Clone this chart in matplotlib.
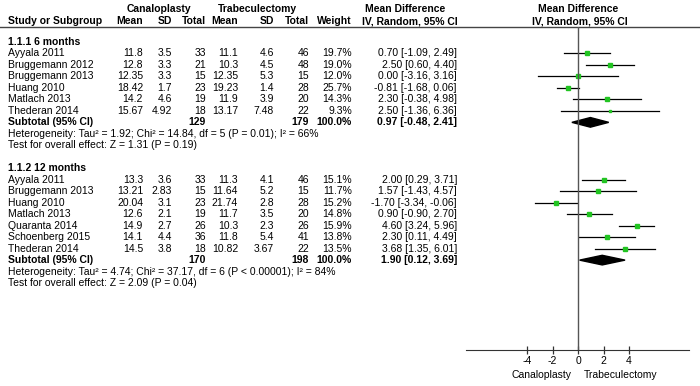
import numpy as np
import matplotlib.pyplot as plt
from matplotlib.patches import Polygon

plt.rcParams['font.family'] = ['Liberation Sans', 'DejaVu Sans']

# ---- data ----
studies1 = ['Ayyala 2011', 'Bruggemann 2012', 'Bruggemann 2013', 'Huang 2010', 'Matlach 2013', 'Thederan 2014']
mean_c1 = [11.8, 12.8, 12.35, 18.42, 14.2, 15.67]
sd_c1 = [3.5, 3.3, 3.3, 1.7, 4.6, 4.92]
n_c1 = [33, 21, 15, 23, 19, 18]
mean_t1 = [11.1, 10.3, 12.35, 19.23, 11.9, 13.17]
sd_t1 = [4.6, 4.5, 5.3, 1.4, 3.9, 7.48]
n_t1 = [46, 48, 15, 28, 20, 22]
weight1 = [19.7, 19.0, 12.0, 25.7, 14.3, 9.3]
md1 = [0.70, 2.50, 0.00, -0.81, 2.30, 2.50]
lo1 = [-1.09, 0.60, -3.16, -1.68, -0.38, -1.36]
hi1 = [2.49, 4.40, 3.16, 0.06, 4.98, 6.36]
sub1 = [129, 179, 100.0, 0.97, -0.48, 2.41]
het1 = 'Heterogeneity: Tau² = 1.92; Chi² = 14.84, df = 5 (P = 0.01); I² = 66%'
eff1 = 'Test for overall effect: Z = 1.31 (P = 0.19)'

studies2 = ['Ayyala 2011', 'Bruggemann 2013', 'Huang 2010', 'Matlach 2013', 'Quaranta 2014', 'Schoenberg 2015', 'Thederan 2014']
mean_c2 = [13.3, 13.21, 20.04, 12.6, 14.9, 14.1, 14.5]
sd_c2 = [3.6, 2.83, 3.1, 2.1, 2.7, 4.4, 3.8]
n_c2 = [33, 15, 23, 19, 26, 36, 18]
mean_t2 = [11.3, 11.64, 21.74, 11.7, 10.3, 11.8, 10.82]
sd_t2 = [4.1, 5.2, 2.8, 3.5, 2.3, 5.4, 3.67]
n_t2 = [46, 15, 28, 20, 26, 41, 22]
weight2 = [15.1, 11.7, 15.2, 14.8, 15.9, 13.8, 13.5]
md2 = [2.00, 1.57, -1.70, 0.90, 4.60, 2.30, 3.68]
lo2 = [0.29, -1.43, -3.34, -0.90, 3.24, 0.11, 1.35]
hi2 = [3.71, 4.57, -0.06, 2.70, 5.96, 4.49, 6.01]
sub2 = [170, 198, 100.0, 1.90, 0.12, 3.69]
het2 = 'Heterogeneity: Tau² = 4.74; Chi² = 37.17, df = 6 (P < 0.00001); I² = 84%'
eff2 = 'Test for overall effect: Z = 2.09 (P = 0.04)'

xticks = [-4, -2, 0, 2, 4]

# ---- layout (pixels) ----
W, H = 700, 386
row0, dy = 42, 11.48
line_y, axis_y = 27, 350
fx0, fx1 = 466, 689
zero_px, unit_px = 578, 12.75
cols = [143, 172, 206, 238, 274, 309, 352, 457]  # right edges
fs = 7.5
green = '#22c422'


def ry(r):
    return row0 + dy * r


fig = plt.figure(figsize=(W / 100, H / 100), dpi=100)
tab = fig.add_axes([0, 0, 1, 1])
tab.set_xlim(0, W)
tab.set_ylim(H, 0)
tab.axis('off')

ax = fig.add_axes([fx0 / W, 1 - axis_y / H, (fx1 - fx0) / W, (axis_y - line_y) / H])
ax.set_xlim((fx0 - zero_px) / unit_px, (fx1 - zero_px) / unit_px)
ax.set_ylim((axis_y - row0) / dy, (line_y - row0) / dy)
ax.patch.set_alpha(0)

# headers
tab.text(159, 9, 'Canaloplasty', ha='center', va='center', fontsize=fs, fontweight='bold')
tab.text(257, 9, 'Trabeculectomy', ha='center', va='center', fontsize=fs, fontweight='bold')
tab.text(405, 9, 'Mean Difference', ha='center', va='center', fontsize=fs, fontweight='bold')
tab.text(578, 9, 'Mean Difference', ha='center', va='center', fontsize=fs, fontweight='bold')
hdr = ['Mean', 'SD', 'Total', 'Mean', 'SD', 'Total', 'Weight']
tab.text(8, 21.5, 'Study or Subgroup', ha='left', va='center', fontsize=fs, fontweight='bold')
for c, h in zip(cols, hdr):
    tab.text(c, 21.5, h, ha='right', va='center', fontsize=fs, fontweight='bold')
tab.text(410, 21.5, 'IV, Random, 95% CI', ha='center', va='center', fontsize=fs, fontweight='bold')
tab.text(580, 21.5, 'IV, Random, 95% CI', ha='center', va='center', fontsize=fs, fontweight='bold')
tab.plot([0, W], [line_y, line_y], color='#444444', lw=1)


def group(r, title, studies, mc, sc, nc, mt, st, nt, w, md, lo, hi, sub, het, eff):
    tab.text(8, ry(r), title, ha='left', va='center', fontsize=fs, fontweight='bold')
    for i in range(len(studies)):
        y = ry(r + 1 + i)
        vals = [f'{mc[i]:g}', f'{sc[i]:g}', str(nc[i]), f'{mt[i]:g}', f'{st[i]:g}', str(nt[i]),
                f'{w[i]:.1f}%', f'{md[i]:.2f} [{lo[i]:.2f}, {hi[i]:.2f}]']
        tab.text(8, y, studies[i], ha='left', va='center', fontsize=fs)
        for c, v in zip(cols, vals):
            tab.text(c, y, v, ha='right', va='center', fontsize=fs)
        yr = r + 1 + i
        ax.plot([lo[i], hi[i]], [yr, yr], color='black', lw=0.9)
        ax.plot(md[i], yr, marker='s', color=green, ms=0.7 * np.sqrt(w[i]), mec=green)
    rs = r + 1 + len(studies)
    y = ry(rs)
    tab.text(8, y, 'Subtotal (95% CI)', ha='left', va='center', fontsize=fs, fontweight='bold')
    tab.text(cols[2], y, str(sub[0]), ha='right', va='center', fontsize=fs, fontweight='bold')
    tab.text(cols[5], y, str(sub[1]), ha='right', va='center', fontsize=fs, fontweight='bold')
    tab.text(cols[6], y, f'{sub[2]:.1f}%', ha='right', va='center', fontsize=fs, fontweight='bold')
    tab.text(cols[7], y, f'{sub[3]:.2f} [{sub[4]:.2f}, {sub[5]:.2f}]', ha='right', va='center',
             fontsize=fs, fontweight='bold')
    dia = Polygon([[sub[4], rs], [sub[3], rs - 0.42], [sub[5], rs], [sub[3], rs + 0.42]],
                  closed=True, color='black')
    ax.add_patch(dia)
    tab.text(8, ry(rs + 1), het, ha='left', va='center', fontsize=fs)
    tab.text(8, ry(rs + 2), eff, ha='left', va='center', fontsize=fs)


group(0, '1.1.1 6 months', studies1, mean_c1, sd_c1, n_c1, mean_t1, sd_t1, n_t1,
      weight1, md1, lo1, hi1, sub1, het1, eff1)
group(11, '1.1.2 12 months', studies2, mean_c2, sd_c2, n_c2, mean_t2, sd_t2, n_t2,
      weight2, md2, lo2, hi2, sub2, het2, eff2)

# forest axis
ax.axvline(0, color='#555555', lw=1)
for s in ['top', 'left', 'right']:
    ax.spines[s].set_visible(False)
ax.spines['bottom'].set_color('#333333')
ax.set_yticks([])
ax.set_xticks(xticks)
ax.set_xticklabels([str(t) for t in xticks], fontsize=fs)
ax.tick_params(axis='x', direction='inout', length=6, width=0.9, color='#333333', pad=1)
tab.text(542, 375, 'Canaloplasty', ha='center', va='center', fontsize=fs)
tab.text(621, 375, 'Trabeculectomy', ha='center', va='center', fontsize=fs)

fig.savefig('out.png', dpi=100)
